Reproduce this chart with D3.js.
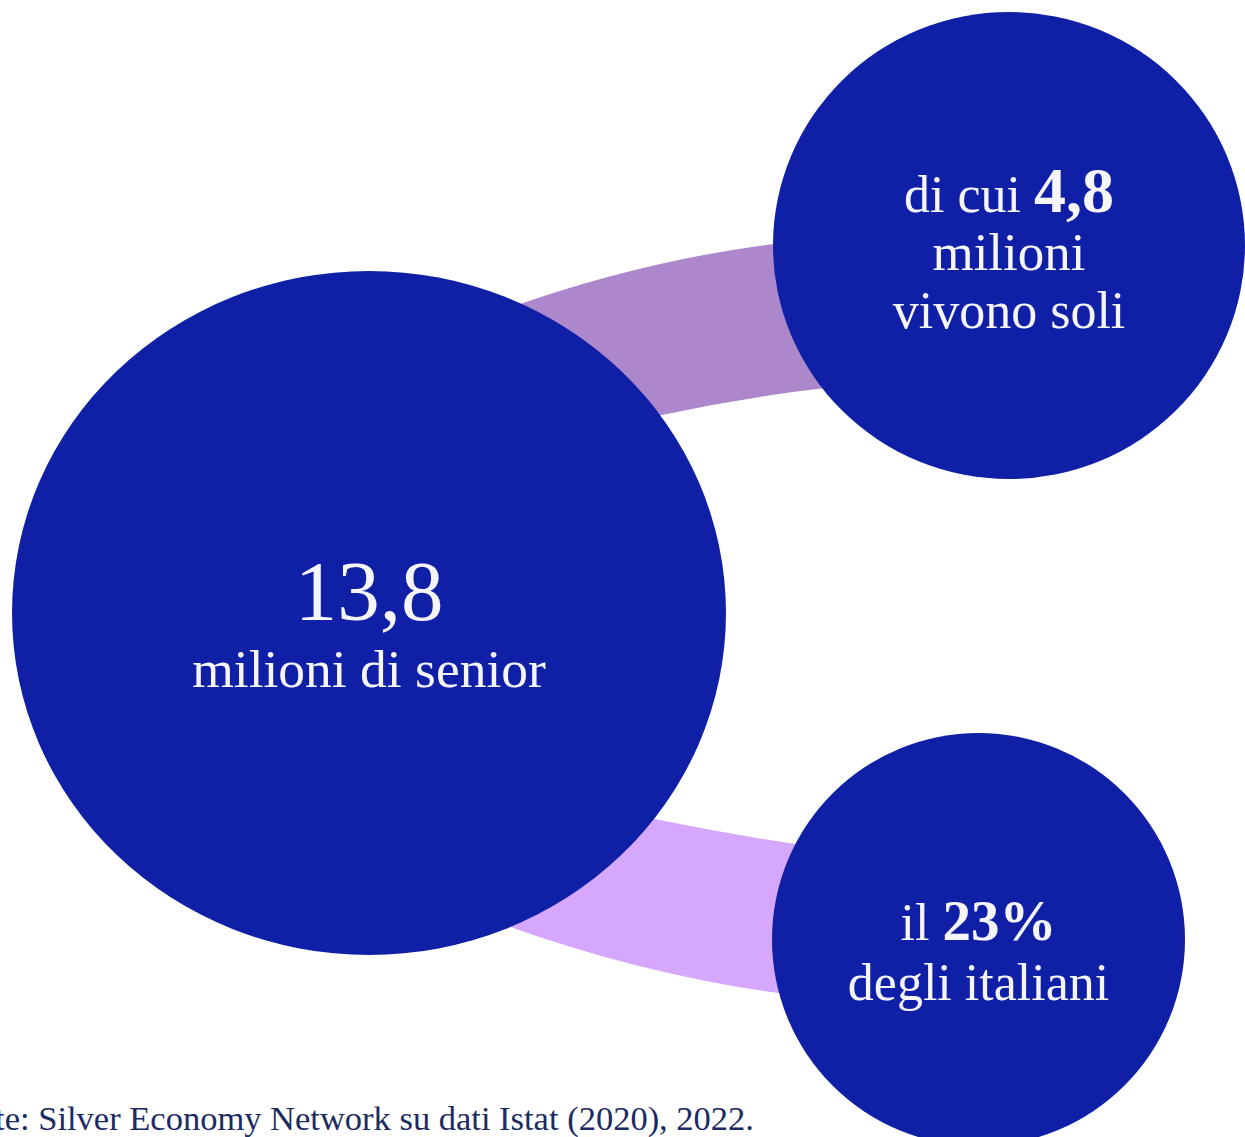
<!DOCTYPE html>
<html>
<head>
<meta charset="utf-8">
<script src="https://cdn.jsdelivr.net/npm/d3@7"></script>
<style>
  html, body { margin: 0; padding: 0; background: #fff; }
  svg { display: block; overflow: hidden; }
  text { font-family: "Liberation Serif", "Times New Roman", serif; }
</style>
</head>
<body>
<svg id="chart" width="1245" height="1137"></svg>
<script>
// data
const nodeNames = ["senior", "vivono soli", "italiani"];
const nodeValues = [13.8, 4.8, 23];
const nodeBefore = ["", "di cui ", "il "];
const nodeAfter = [["milioni di senior"], ["milioni", "vivono soli"], ["degli italiani"]];
const links = [[0, 1], [0, 2]];
const source = "Fonte: Silver Economy Network su dati Istat (2020), 2022.";

// layout
const nodeCx = [369, 1009, 978.5];
const nodeCy = [613, 245.5, 939.5];
const nodeRx = [357, 236, 206.5];
const nodeRy = [342, 233.5, 206.5];
const linkColors = ["#ad87cb", "#d6a7fe"];
// each link: outer edge and inner edge as quadratic curves [x0,y0, cx,cy, x1,y1]
const linkEdges = [
    [[440, 334.5, 670, 239, 900, 234.7], [560, 440, 730, 393, 900, 381]],
    [[560, 798.7, 730, 837.5, 900, 859.5], [440, 900.1, 670, 994.7, 900, 1004]]
];

const it = d3.formatLocale({decimal: ",", thousands: ".", grouping: [3], currency: ["€", ""]});
const fmt = [it.format(".1f"), it.format(".1f"), d => it.format("d")(d) + "%"];

const svg = d3.select("#chart"),
    width = +svg.attr("width"),
    height = +svg.attr("height");

function ribbon(e) {
    var p = d3.path(), a = e[0], b = e[1];
    p.moveTo(a[0], a[1]);
    p.quadraticCurveTo(a[2], a[3], a[4], a[5]);
    p.lineTo(b[4], b[5]);
    p.quadraticCurveTo(b[2], b[3], b[0], b[1]);
    p.closePath();
    return p.toString();
}

svg.append("g").selectAll("path")
    .data(links)
    .enter()
    .append("path")
    .attr("d", (d, i) => ribbon(linkEdges[i]))
    .style("fill", (d, i) => linkColors[i]);

svg.append("g").selectAll("ellipse")
    .data(nodeNames)
    .enter()
    .append("ellipse")
    .attr("cx", (d, i) => nodeCx[i])
    .attr("cy", (d, i) => nodeCy[i])
    .attr("rx", (d, i) => nodeRx[i])
    .attr("ry", (d, i) => nodeRy[i])
    .style("fill", "#0f20a6");

// big node
svg.append("text")
    .attr("x", nodeCx[0])
    .attr("y", 620)
    .attr("text-anchor", "middle")
    .attr("fill", "#f6f5fa")
    .attr("font-size", "85px")
    .text(fmt[0](nodeValues[0]));

svg.append("text")
    .attr("x", nodeCx[0])
    .attr("y", 687)
    .attr("text-anchor", "middle")
    .attr("fill", "#f6f5fa")
    .attr("font-size", "53.5px")
    .text(nodeAfter[0][0]);

// small nodes
const firstLine = [null, 212, 940];
const lineGap = [0, 58, 60];
const lineSize = [0, 52, 52];
const boldSize = [0, 64, 57];
[1, 2].forEach(function(i) {
    var t = svg.append("text")
        .attr("x", nodeCx[i])
        .attr("y", firstLine[i])
        .attr("text-anchor", "middle")
        .attr("fill", "#f6f5fa")
        .attr("font-size", lineSize[i] + "px");
    t.append("tspan").text(nodeBefore[i]);
    t.append("tspan")
        .attr("font-weight", "bold")
        .attr("font-size", boldSize[i] + "px")
        .text(fmt[i](nodeValues[i]));

    nodeAfter[i].forEach(function(line, j) {
        svg.append("text")
            .attr("x", nodeCx[i])
            .attr("y", firstLine[i] + lineGap[i] * (j + 1))
            .attr("text-anchor", "middle")
            .attr("fill", "#f6f5fa")
            .attr("font-size", (i == 1 && j == 0 ? 53 : lineSize[i]) + "px")
            .text(line);
    });
});

svg.append("text")
    .attr("x", 754)
    .attr("y", 1130)
    .attr("text-anchor", "end")
    .attr("fill", "#1c2b62")
    .attr("font-size", "34.5px")
    .text(source);
</script>
</body>
</html>
